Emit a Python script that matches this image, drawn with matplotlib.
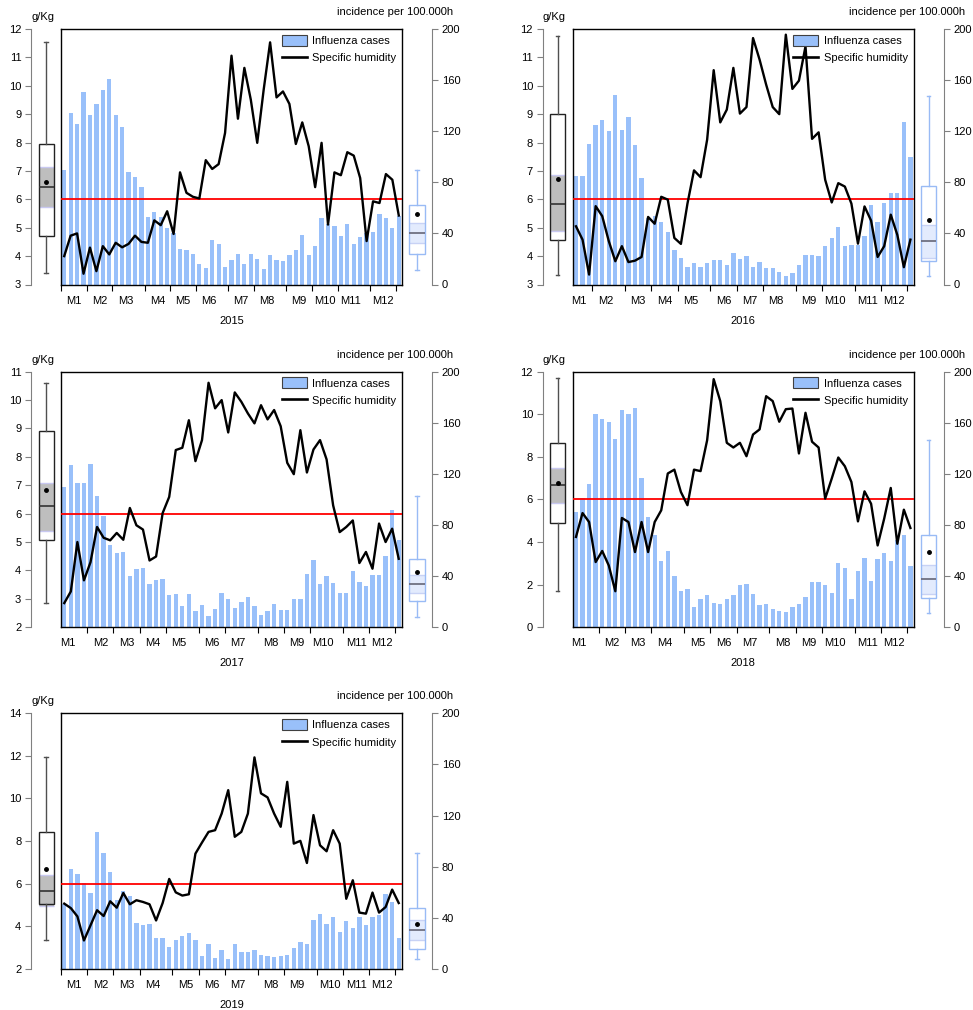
import numpy as np
import matplotlib
matplotlib.use("Agg")
import matplotlib.pyplot as plt
from matplotlib.patches import Patch
from matplotlib.lines import Line2D

plt.rcParams['font.family'] = ['Liberation Sans', 'DejaVu Sans']
plt.rcParams['font.size'] = 8

# weekly influenza incidence (per 100.000h) and specific humidity (g/Kg)
years = ['2015', '2016', '2017', '2018', '2019']

flu_2015 = [90, 134, 126, 151, 133, 141, 152, 161, 133, 123, 88, 84, 76, 53, 57, 53, 44, 40,
            28, 27, 24, 16, 13, 35, 32, 14, 19, 24, 16, 24, 20, 12, 23, 19, 18.5, 23, 27, 39,
            23, 30, 52, 47, 46, 38, 47, 32, 37.5, 40, 41, 55, 52, 44, 54]
hum_2015 = [4.0, 4.72, 4.8, 3.38, 4.3, 3.47, 4.35, 4.06, 4.47, 4.31, 4.43, 4.72, 4.5, 4.47,
            5.26, 5.09, 5.58, 4.78, 6.95, 6.23, 6.09, 6.03, 7.38, 7.07, 7.24, 8.34, 11.06,
            8.84, 10.63, 9.51, 7.99, 9.86, 11.53, 9.59, 9.8, 9.36, 7.95, 8.71, 7.87, 6.43,
            7.99, 5.11, 6.95, 6.85, 7.66, 7.54, 6.75, 4.53, 5.93, 5.87, 6.89, 6.69, 5.43]

flu_2016 = [85, 85, 110, 125, 129, 120, 148, 121, 131, 109, 83, 52, 54, 49, 41, 27, 21, 14,
            17, 14, 17, 19, 19, 15, 25, 20, 22, 14, 17.5, 13, 13, 10, 7, 9, 15, 23, 23, 22,
            30, 36.5, 45, 30, 31, 31, 38, 62.5, 49, 64, 72, 72, 127, 100]
hum_2016 = [5.05, 4.58, 3.35, 5.76, 5.41, 4.53, 3.82, 4.35, 3.79, 3.84, 3.97, 5.38, 5.14,
            6.09, 5.99, 4.64, 4.43, 5.85, 7.02, 6.78, 8.1, 10.55, 8.71, 9.16, 10.63, 9.02,
            9.25, 11.68, 10.92, 10.04, 9.25, 9.0, 11.8, 9.89, 10.18, 11.39, 8.13, 8.36, 6.69,
            5.89, 6.57, 6.45, 5.85, 4.44, 5.75, 5.25, 3.97, 4.35, 5.46, 4.75, 3.61, 4.58]

flu_2017 = [110, 127, 113, 113, 128, 103, 87, 64, 58, 59, 40, 45.5, 46.6, 34, 36.6, 37.4,
            24.9, 26.2, 16.8, 26.2, 12.6, 17, 8.4, 14.1, 26.4, 21.7, 14.9, 20.1, 23.8, 16.8,
            9.2, 12.6, 18.4, 13.4, 13.4, 22, 22, 41.6, 52.3, 34, 39.8, 34.8, 26.4, 26.4,
            43.7, 35.6, 32.2, 40.5, 40.5, 56, 92.1, 68]
hum_2017 = [2.85, 3.26, 5.0, 3.65, 4.29, 5.53, 5.15, 5.06, 5.32, 5.08, 6.2, 5.59, 5.44,
            4.35, 4.49, 6.02, 6.59, 8.24, 8.32, 9.29, 7.85, 8.59, 10.61, 9.71, 10.0, 8.86,
            10.27, 9.94, 9.53, 9.18, 9.82, 9.32, 9.65, 9.08, 7.79, 7.39, 8.94, 7.45, 8.26,
            8.59, 7.91, 6.29, 5.35, 5.53, 5.76, 4.26, 4.65, 4.06, 5.65, 5.0, 5.47, 4.41]

flu_2018 = [90, 101, 112, 167, 163, 161, 147, 170, 167, 171.5, 117, 86, 72, 52, 60, 40, 28,
            30, 16, 22, 25, 19, 18, 22, 25, 33, 33.5, 26, 17, 18, 14, 13, 12, 16, 18, 24,
            35.6, 35.3, 33, 27, 50, 46, 22, 44, 54, 36, 53, 58, 52, 68, 72, 48]
hum_2018 = [4.24, 5.36, 4.94, 3.06, 3.58, 2.9, 1.69, 5.13, 4.94, 3.53, 4.94, 3.53, 4.94,
            5.49, 7.22, 7.4, 6.35, 5.73, 7.4, 7.33, 8.78, 11.65, 10.62, 8.66, 8.44, 8.66,
            8.03, 9.05, 9.29, 10.85, 10.62, 9.65, 10.24, 10.27, 8.16, 10.07, 8.71, 8.44,
            6.04, 6.98, 7.97, 7.56, 6.82, 4.97, 6.38, 5.8, 3.84, 5.1, 6.54, 3.92, 5.52, 4.66]

flu_2019 = [51, 78, 74.5, 67, 59, 107, 91, 76, 54, 61, 57, 36, 34, 34.7, 24.3, 24, 16.7,
            22.7, 25.3, 28.2, 22.7, 10.2, 19.8, 8.3, 14.6, 7.5, 19.6, 12.8, 13, 15.1, 11,
            9.9, 9.1, 10.2, 10.5, 15.9, 21.1, 19.8, 37.9, 43.1, 35.3, 40.3, 29, 37.1, 31.9,
            40.3, 34, 40.3, 42, 58.3, 52.3, 23.8]
hum_2019 = [5.06, 4.85, 4.46, 3.33, 4.04, 4.75, 4.48, 5.17, 4.87, 5.56, 5.03, 5.22, 5.14,
            5.03, 4.27, 5.09, 6.22, 5.59, 5.44, 5.5, 7.41, 7.93, 8.43, 8.51, 9.29, 10.39,
            8.2, 8.43, 9.29, 11.93, 10.24, 10.05, 9.29, 8.67, 10.78, 7.88, 8.01, 6.97, 9.22,
            7.8, 7.52, 8.51, 7.88, 5.29, 6.16, 4.64, 4.59, 5.58, 4.64, 4.9, 5.72, 5.09]

# first week of each month (-1 = month started before the first week)
month_start_2015 = [0, 4, 8, 13, 17, 21, 26, 30, 35, 39, 43, 48]
month_start_2016 = [-1, 3, 8, 12, 16, 21, 25, 29, 34, 38, 43, 47]
month_start_2017 = [-1, 4, 8, 12, 16, 21, 25, 30, 34, 38, 43, 47]
month_start_2018 = [-1, 4, 8, 12, 17, 21, 25, 30, 34, 38, 43, 47]
month_start_2019 = [0, 4, 8, 12, 17, 21, 25, 30, 34, 39, 43, 47]
month_labels = ['M%d' % m for m in range(1, 13)]

# box plot summaries: whislo, q1, ci_lo, median, ci_hi, q3, whishi, mean
hum_box = [[3.39, 4.72, 5.73, 6.43, 7.13, 7.95, 11.54, 6.6],
           [3.35, 4.55, 4.88, 5.84, 6.84, 9.01, 11.77, 6.73],
           [2.85, 5.06, 5.39, 6.26, 7.08, 8.91, 10.61, 6.82],
           [1.69, 4.91, 5.84, 6.67, 7.5, 8.63, 11.69, 6.78],
           [3.33, 5.03, 4.93, 5.64, 6.39, 8.42, 11.95, 6.69]]
flu_box = [[11.7, 24.2, 32.6, 40.4, 48.2, 62.0, 89.5, 55.5],
           [7.0, 18.3, 20.9, 33.9, 46.4, 76.9, 147.4, 50.3],
           [7.8, 20.9, 26.7, 34.0, 41.0, 53.3, 103, 43.1],
           [11.0, 22.7, 26.1, 37.4, 48.4, 72.4, 146.9, 58.6],
           [7.3, 15.7, 22.7, 30.3, 37.9, 47.6, 90.7, 35.0]]

hum_lims = [(3, 12), (3, 12), (2, 11), (0, 12), (2, 14)]
hum_steps = [1, 1, 1, 2, 2]
threshold = 6

flu_all = [flu_2015, flu_2016, flu_2017, flu_2018, flu_2019]
hum_all = [hum_2015, hum_2016, hum_2017, hum_2018, hum_2019]
starts_all = [month_start_2015, month_start_2016, month_start_2017, month_start_2018,
              month_start_2019]

W, H = 973, 1010
fig = plt.figure(figsize=(W / 100, H / 100), dpi=100)


def rect(x0, y0, x1, y1):
    return [x0 / W, 1 - y1 / H, (x1 - x0) / W, (y1 - y0) / H]


BAR = '#99C0FA'
GREY = '#808080'
panel_pos = [(61, 29), (572.7, 29), (61, 371.7), (572.7, 371.7), (61, 713.3)]
PW, PH = 341, 255.5


def draw_box(axb, st, pos, wid, edge, whis, ci_fill, ci_edge, med_col):
    stats = [dict(whislo=st[0], q1=st[1], med=st[3], q3=st[5], whishi=st[6],
                  mean=st[7], fliers=[])]
    axb.bxp(stats, positions=[pos], widths=wid, capwidths=3.5, showmeans=True,
            patch_artist=True,
            boxprops=dict(facecolor='none', edgecolor=edge, linewidth=1.0),
            whiskerprops=dict(color=whis, linewidth=1.0),
            capprops=dict(color=whis, linewidth=1.0),
            medianprops=dict(color=med_col, linewidth=1.2),
            meanprops=dict(marker='o', markerfacecolor='black', markeredgecolor='black',
                           markersize=2.5))
    axb.bar(pos, st[4] - st[2], bottom=st[2], width=wid, color=ci_fill,
            linewidth=0, zorder=1.5)
    axb.hlines([st[2], st[4]], pos - wid / 2, pos + wid / 2, color=ci_edge, lw=1.0,
               zorder=1.6)


for i, yr in enumerate(years):
    x0, y0 = panel_pos[i]
    x1, y1 = x0 + PW, y0 + PH
    flu = np.array(flu_all[i])
    hum = np.array(hum_all[i])
    n = len(flu)
    wk = np.arange(n)
    starts = starts_all[i]

    # main panel: bars on the incidence scale, humidity on the twin
    ax = fig.add_axes(rect(x0, y0, x1, y1))
    ax.bar(wk, flu, width=0.66, color=BAR, linewidth=0)
    ax.set_xlim(-0.5, n - 0.5)
    ax.set_ylim(0, 200)
    ax.set_yticks([])
    for s in ax.spines.values():
        s.set_linewidth(1.0)
        s.set_color('black')
    ticks = [s - 0.5 for s in starts if s >= 0] + [n - 1.5]
    ax.set_xticks(ticks)
    ax.set_xticklabels([])
    ax.set_xticks([s + 1.5 for s in starts], minor=True)
    ax.set_xticklabels(month_labels, minor=True)
    ax.tick_params(axis='x', which='major', length=4, width=0.8, direction='out')
    ax.tick_params(axis='x', which='minor', length=0, pad=8)

    ax2 = ax.twinx()
    ax2.axhline(threshold, color='#FF0000', lw=1.3)
    ax2.plot(wk, hum, color='black', lw=1.7)
    ax2.set_ylim(hum_lims[i])
    ax2.set_yticks([])
    for s in ax2.spines.values():
        s.set_visible(False)

    handles = [Patch(facecolor=BAR, edgecolor='#404040', linewidth=0.8),
               Line2D([], [], color='black', lw=1.9)]
    ax2.legend(handles, ['Influenza cases', 'Specific humidity'], loc='upper right',
               frameon=False, fontsize=8, handlelength=2.25, handleheight=1.15,
               handletextpad=0.5, labelspacing=0.55, borderaxespad=0.2, borderpad=0.3)

    # left box plot: humidity
    axl = fig.add_axes(rect(x0 - 30, y0, x0 - 1, y1))
    axl.set_xlim(0, 29)
    axl.set_ylim(hum_lims[i])
    draw_box(axl, hum_box[i], 15, 15, '#222222', '#505050', '#BEBEBE', '#C8C8F0',
             '#333333')
    lo, hi = hum_lims[i]
    axl.set_yticks(np.arange(lo, hi + 0.01, hum_steps[i]))
    axl.set_xticks([])
    for k in ['top', 'right', 'bottom']:
        axl.spines[k].set_visible(False)
    axl.spines['left'].set_color(GREY)
    axl.tick_params(axis='y', length=4, color=GREY, labelsize=8, pad=3)
    axl.patch.set_visible(False)

    # right box plot: influenza incidence
    axr = fig.add_axes(rect(x1 + 1, y0, x1 + 30, y1))
    axr.set_xlim(0, 29)
    axr.set_ylim(0, 200)
    draw_box(axr, flu_box[i], 14, 15.5, '#99BBF5', '#99BBF5', '#E3EBFD', '#C8D2F5',
             '#666677')
    axr.set_yticks(np.arange(0, 201, 40))
    axr.set_xticks([])
    axr.yaxis.tick_right()
    for k in ['top', 'left', 'bottom']:
        axr.spines[k].set_visible(False)
    axr.spines['right'].set_color(GREY)
    axr.tick_params(axis='y', length=4, color=GREY, labelsize=8, pad=3)
    axr.patch.set_visible(False)

    fig.text((x0 - 30) / W, 1 - (y0 - 12) / H, 'g/Kg', ha='left', va='center', fontsize=8)
    fig.text((x1 + 51) / W, 1 - (y0 - 17) / H, 'incidence per 100.000h', ha='right',
             va='center', fontsize=8)
    fig.text((x0 + x1) / 2 / W, 1 - (y1 + 36) / H, yr, ha='center', va='center',
             fontsize=8)

fig.savefig('out.png', dpi=100)
